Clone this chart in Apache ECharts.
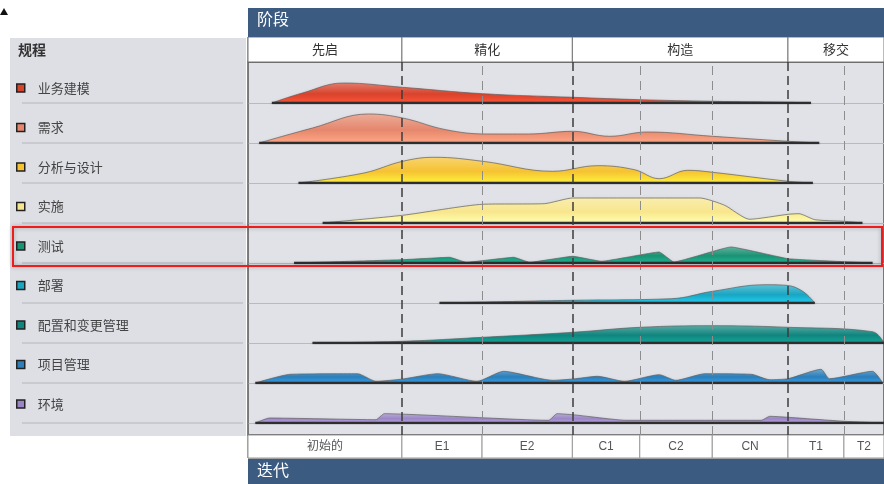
<!DOCTYPE html>
<html>
<head>
<meta charset="utf-8">
<script src="https://cdn.jsdelivr.net/npm/echarts@6/dist/echarts.min.js"></script>
<style>html,body{margin:0;background:#fff}#chart{width:884px;height:484px}</style>
</head>
<body>
<div id="chart"></div>
<script>
// phases / iterations (x runs 0..100 over the project timeline)
const phases = ['先启', '精化', '构造', '移交'];
const phaseIterCount = [1, 2, 3, 2];
const iterations = ['初始的', 'E1', 'E2', 'C1', 'C2', 'CN', 'T1', 'T2'];
const iterEdges = [0, 24.2, 36.8, 51.0, 61.6, 73.0, 84.9, 93.7, 100];

const disciplines = ['业务建模', '需求', '分析与设计', '实施', '测试', '部署', '配置和变更管理', '项目管理', '环境'];
const colors = ['#d8432c', '#e5876c', '#f6c232', '#f8e68c', '#1a9274', '#19a6c2', '#10857d', '#2b7fba', '#9a86c4'];

// effort humps: [time, effort]
const businessModeling = [[3.6,0],[8.4,10],[14.9,20],[24.2,15.7],[36.8,9.3],[51,5.7],[61.6,3.3],[73,1.7],[84.9,0.7],[88.5,0]];
const requirements = [[1.6,0],[10,15],[18.8,29],[24.2,25],[31,13.3],[37.5,9],[44,9],[51,11.7],[56.8,6.7],[62.7,11],[73,6.7],[84.9,1.7],[89.8,0]];
const analysisDesign = [[7.8,0],[18.1,10],[24.2,21.7],[29.2,25.7],[36.8,21.7],[47.8,11.7],[54.9,17.3],[60.7,13.3],[64.6,4.3],[69.1,12.7],[73,10.7],[84.9,1.7],[88.8,0]];
const implementation = [[11.6,0],[24.2,7.7],[36.8,18.7],[46.5,19.3],[51,25],[71,25],[74.9,17.7],[78.8,3.7],[84.9,8.7],[86.6,9.3],[89.1,3.3],[93.7,1.7],[96.6,0]];
const test = [[7.1,0],[24.2,3.3],[31.6,5.7],[34.2,0.7],[41.7,5.7],[44.2,0.7],[51,6.7],[55.5,1.7],[64.6,11],[66.9,1],[75.9,16],[84.9,4.3],[93.7,1.3],[98.2,0]];
const deployment = [[30,0],[51,2.7],[66.5,4.3],[73,11.7],[81.4,18.3],[84.6,17.7],[87.2,11.7],[89.1,0]];
const configChange = [[10,0],[24.2,1.7],[36.8,5.7],[51,10.7],[61.6,15.7],[73,17.3],[84.9,15.7],[98.2,11.3],[100,0]];
const projectMgmt = [[1,0],[6.5,8.7],[17.1,9.3],[20,1.7],[24.2,4],[29.7,9.3],[35.9,1.7],[40.1,11.7],[47.8,2.7],[51,4],[54.9,6.7],[59.1,1.7],[64.6,8.3],[67.2,2.7],[71.8,9.3],[79.1,8.7],[82,3.3],[84.9,4.3],[90.1,13.7],[91.4,4.3],[98.2,11.7],[99.8,0]];
const environment = [[1,0],[3.2,5],[20,3.3],[21.3,9.3],[47.2,2.7],[48.5,9.3],[51,8.3],[59.4,2.7],[80.7,2.7],[82,6.7],[84.9,5.7],[93.7,1.7],[100,0]];

const humps = [businessModeling, requirements, analysisDesign, implementation, test, deployment, configChange, projectMgmt, environment];
const smoothness = [0.4, 0.4, 0.4, 0.2, 0.1, 0.4, 0.4, 0.2, 0.15];

const FONT = 'Noto Sans CJK SC';
const LEFT = 248, W = 636;
const rowSep = i => 103 + 40 * i;

// phase edges from iteration counts
const phaseEdges = [0];
let k = 0;
phaseIterCount.forEach(n => { k += n; phaseEdges.push(iterEdges[k]); });

const grids = [
    { left: LEFT, top: 62, width: W + 2, height: 373, show: true, backgroundColor: '#e1e2e7', borderColor: '#555', borderWidth: 1.5 },
    { left: LEFT, top: 37, width: W + 2, height: 25, show: true, backgroundColor: '#fff', borderColor: '#555', borderWidth: 1 },
    { left: LEFT, top: 435, width: W + 2, height: 23, show: true, backgroundColor: '#fff', borderColor: '#555', borderWidth: 1 }
];
const xAxes = [0, 1, 2].map(i => ({ gridIndex: i, type: 'value', min: 0, max: 100, show: false }));
const yAxes = [0, 1, 2].map(i => ({ gridIndex: i, type: 'value', min: 0, max: 1, show: false }));

const series = [
    {
        type: 'line', xAxisIndex: 0, yAxisIndex: 0, data: [], z: 10, silent: true,
        markLine: {
            symbol: 'none', silent: true, label: { show: false },
            data: iterEdges.slice(1, -1).map(x => ({
                xAxis: x,
                lineStyle: phaseEdges.includes(x)
                    ? { color: '#3d3d3d', width: 1.5, type: [9, 5] }
                    : { color: '#8d8d8d', width: 1, type: [9, 6] }
            }))
        }
    },
    {
        type: 'line', xAxisIndex: 1, yAxisIndex: 1, data: [], silent: true,
        markArea: {
            silent: true,
            itemStyle: { color: '#fff', borderColor: '#777', borderWidth: 1 },
            label: { show: true, position: 'inside', color: '#333', fontSize: 13, fontFamily: FONT },
            data: phases.map((p, i) => [{ name: p, xAxis: phaseEdges[i] }, { xAxis: phaseEdges[i + 1] }])
        }
    },
    {
        type: 'line', xAxisIndex: 2, yAxisIndex: 2, data: [], silent: true,
        markArea: {
            silent: true,
            itemStyle: { color: '#fff', borderColor: '#999', borderWidth: 1 },
            label: { show: true, position: 'inside', color: '#555', fontSize: 12, fontFamily: 'Liberation Sans, ' + FONT },
            data: iterations.map((it, i) => [{ name: it, xAxis: iterEdges[i] }, { xAxis: iterEdges[i + 1] }])
        }
    }
];

disciplines.forEach((name, i) => {
    const g = 3 + i;
    grids.push({ left: LEFT + 1, top: rowSep(i) - 31, width: W, height: 31 });
    xAxes.push({
        gridIndex: g, type: 'value', min: 0, max: 100,
        axisLine: { show: true, lineStyle: { color: '#b9bac0', width: 1 } },
        axisTick: { show: false }, axisLabel: { show: false }, splitLine: { show: false }
    });
    yAxes.push({ gridIndex: g, type: 'value', min: 0, max: 31, show: false });
    const c = colors[i];
    series.push({
        name: name, type: 'line', xAxisIndex: g, yAxisIndex: g,
        data: humps[i], smooth: smoothness[i], showSymbol: false, symbol: 'none',
        color: c, z: 3, silent: true,
        lineStyle: { color: 'rgba(95,95,95,0.7)', width: 1 },
        areaStyle: {
            color: new echarts.graphic.LinearGradient(0, 0, 0, 1, [
                { offset: 0, color: echarts.color.lift(c, 0.3) },
                { offset: 0.55, color: c },
                { offset: 1, color: echarts.color.lift(c, -0.25) }
            ]),
            opacity: 1,
            shadowColor: 'rgba(0,0,0,0.25)', shadowBlur: 4, shadowOffsetY: 2
        }
    });
    const pts = humps[i];
    series.push({
        type: 'line', xAxisIndex: g, yAxisIndex: g, z: 4, silent: true,
        data: [[pts[0][0], 0], [pts[pts.length - 1][0], 0]],
        showSymbol: false, symbol: 'none',
        lineStyle: { color: '#2e2e2e', width: 2.5, shadowColor: 'rgba(0,0,0,0.4)', shadowBlur: 3, shadowOffsetY: 1.5 }
    });
});

const graphics = [
    { type: 'polygon', shape: { points: [[0, 15], [4, 8], [8, 15]] }, style: { fill: '#111' } },
    { type: 'rect', z: -1, shape: { x: 10, y: 38, width: 236, height: 398 }, style: { fill: '#dedfe4' } },
    { type: 'text', left: 18, top: 43, style: { text: '规程', font: 'bold 14px "' + FONT + '"', fill: '#333' } },
    { type: 'rect', z: 50, shape: { x: LEFT, y: 8, width: W, height: 29 }, style: { fill: '#3b5b80' } },
    { type: 'text', z: 51, left: 257, top: 11, style: { text: '阶段', font: '16px "' + FONT + '"', fill: '#fff' } },
    { type: 'rect', z: 50, shape: { x: LEFT, y: 459, width: W, height: 25 }, style: { fill: '#3b5b80' } },
    { type: 'text', z: 51, left: 257, top: 462, style: { text: '迭代', font: '16px "' + FONT + '"', fill: '#fff' } },
    { type: 'rect', z: 200, shape: { x: 13, y: 227, width: 869, height: 39 },
      style: { fill: 'none', stroke: '#ee1c1c', lineWidth: 2, shadowColor: 'rgba(0,0,0,0.3)', shadowBlur: 4 } }
];
disciplines.forEach((d, i) => {
    graphics.push({ type: 'line', shape: { x1: 22, y1: rowSep(i), x2: 243, y2: rowSep(i) },
        style: { stroke: '#b4b5bb', lineWidth: 1 } });
});

const myChart = echarts.init(document.getElementById('chart'));
myChart.setOption({
    backgroundColor: '#fff',
    animation: false,
    textStyle: { fontFamily: FONT },
    grid: grids,
    xAxis: xAxes,
    yAxis: yAxes,
    legend: {
        data: disciplines, orient: 'vertical', left: 16, top: 81, padding: 0,
        icon: 'rect', itemWidth: 8, itemHeight: 8, itemGap: 25.5, selectedMode: false,
        itemStyle: { borderColor: '#222', borderWidth: 1.5 },
        textStyle: { fontSize: 13, color: '#444', lineHeight: 14, padding: [0, 0, 0, 8], fontFamily: FONT }
    },
    graphic: graphics,
    series: series
});
window.addEventListener('resize', () => myChart.resize());
</script>
</body>
</html>
